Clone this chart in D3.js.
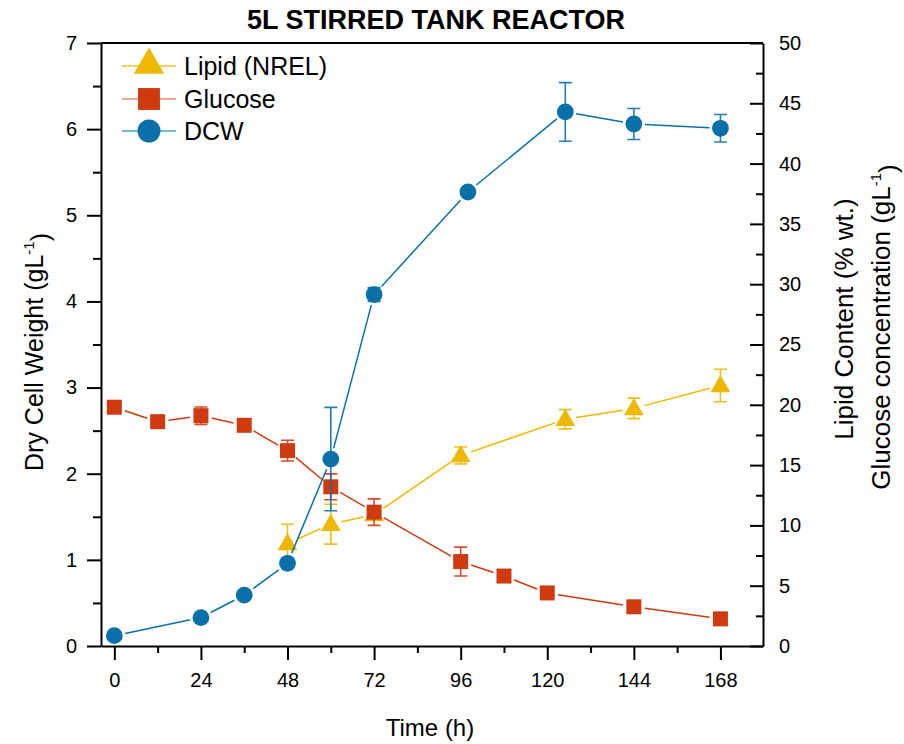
<!DOCTYPE html>
<html>
<head>
<meta charset="utf-8">
<script src="https://cdn.jsdelivr.net/npm/d3@7"></script>
<style>
  body { margin: 0; background: #fff; }
  text { font-family: "Liberation Sans", Arial, sans-serif; fill: #000; }
</style>
</head>
<body>
<svg id="chart" width="904" height="744"></svg>
<script>
// --- data ---
const dcwTime = [0, 24, 36, 48, 60, 72, 98, 125, 144, 168];
const dcw = [0.12, 0.33, 0.59, 0.96, 2.17, 4.08, 5.27, 6.20, 6.06, 6.01];
const dcwErr = [0, 0, 0, 0, 0.60, 0.08, 0, 0.34, 0.18, 0.16];

const glucoseTime = [0, 12, 24, 36, 48, 60, 72, 96, 108, 120, 144, 168];
const glucose = [19.8, 18.6, 19.1, 18.3, 16.2, 13.2, 11.1, 7.0, 5.8, 4.4, 3.25, 2.25];
const glucoseErr = [0, 0, 0.72, 0, 0.86, 1.07, 1.1, 1.2, 0, 0, 0, 0];

const lipidTime = [48, 60, 72, 96, 125, 144, 168];
const lipid = [8.5, 10.1, 10.9, 15.8, 18.8, 19.7, 21.6];
const lipidErr = [1.6, 1.65, 0, 0.7, 0.8, 0.85, 1.35];

const xTicks = [0, 24, 48, 72, 96, 120, 144, 168];
const leftTicks = [0, 1, 2, 3, 4, 5, 6, 7];
const rightTicks = [0, 5, 10, 15, 20, 25, 30, 35, 40, 45, 50];

const colors = { lipid: "#efb800", glucose: "#cf3a10", dcw: "#0a70aa" };

const svg = d3.select("#chart");
const m = { left: 101, right: 763, top: 43, bottom: 646 };

const x = d3.scaleLinear().domain([-3.7, 179.8]).range([m.left, m.right]);
const yL = d3.scaleLinear().domain([0, 7]).range([m.bottom, m.top]);
const yR = d3.scaleLinear().domain([0, 50]).range([m.bottom, m.top]);

// title
svg.append("text")
    .attr("x", 436).attr("y", 29)
    .attr("text-anchor", "middle")
    .style("font-size", "27px").style("font-weight", "bold")
    .text("5L STIRRED TANK REACTOR");

// frame top line
svg.append("line")
    .attr("x1", m.left).attr("x2", m.right).attr("y1", m.top).attr("y2", m.top)
    .attr("stroke", "#000").attr("stroke-width", 2);

function styleAxis(g) {
    g.select(".domain").attr("stroke-width", 2);
    g.selectAll(".tick line").attr("stroke-width", 2);
    g.selectAll(".tick text").style("font-size", "20px").style("font-family", "Liberation Sans, Arial, sans-serif");
}

// bottom axis (major + minor)
svg.append("g")
    .attr("transform", `translate(0,${m.bottom})`)
    .call(d3.axisBottom(x).tickValues(d3.range(12, 180, 24)).tickSize(7).tickFormat("").tickSizeOuter(0))
    .call(g => g.select(".domain").remove())
    .selectAll("line").attr("stroke-width", 2);
svg.append("g")
    .attr("transform", `translate(0,${m.bottom})`)
    .call(d3.axisBottom(x).tickValues(xTicks).tickSize(14).tickSizeOuter(0).tickPadding(13))
    .call(styleAxis);

// left axis
svg.append("g")
    .attr("transform", `translate(${m.left},0)`)
    .call(d3.axisLeft(yL).tickValues(d3.range(0.5, 7, 1)).tickSize(8).tickFormat("").tickSizeOuter(0))
    .call(g => g.select(".domain").remove())
    .selectAll("line").attr("stroke-width", 2);
svg.append("g")
    .attr("transform", `translate(${m.left},0)`)
    .call(d3.axisLeft(yL).tickValues(leftTicks).tickFormat(d3.format("d")).tickSize(14).tickSizeOuter(0).tickPadding(10))
    .call(styleAxis);

// right axis, ticks pointing inward
svg.append("g")
    .attr("transform", `translate(${m.right},0)`)
    .call(d3.axisRight(yR).tickValues(d3.range(2.5, 50, 5)).tickSize(-7).tickFormat("").tickSizeOuter(0))
    .call(g => g.select(".domain").remove())
    .selectAll("line").attr("stroke-width", 2);
svg.append("g")
    .attr("transform", `translate(${m.right},0)`)
    .call(d3.axisRight(yR).tickValues(rightTicks).tickSize(-13).tickSizeOuter(0).tickPadding(16))
    .call(styleAxis);

// axis titles
svg.append("text")
    .attr("x", 430).attr("y", 736)
    .attr("text-anchor", "middle")
    .style("font-size", "24px")
    .text("Time (h)");

function titleWithSup(sel, main, sup) {
    sel.append("tspan").text(main);
    sel.append("tspan").attr("dy", "-0.6em").style("font-size", "15px").text(sup);
    sel.append("tspan").attr("dy", "0.6em").text(")");
}

svg.append("text")
    .attr("transform", "translate(43,352) rotate(-90)")
    .attr("text-anchor", "middle")
    .style("font-size", "25px")
    .call(titleWithSup, "Dry Cell Weight (gL", "-1");

svg.append("text")
    .attr("transform", "translate(853,319) rotate(-90)")
    .attr("text-anchor", "middle")
    .style("font-size", "26px")
    .text("Lipid Content (% wt.)");

svg.append("text")
    .attr("transform", "translate(890,327) rotate(-90)")
    .attr("text-anchor", "middle")
    .style("font-size", "26px")
    .call(titleWithSup, "Glucose concentration (gL", "-1");

// series
const series = [
    { key: "lipid", t: lipidTime, v: lipid, e: lipidErr, y: yR, sym: d3.symbolTriangle, size: 170, legSize: 400 },
    { key: "glucose", t: glucoseTime, v: glucose, e: glucoseErr, y: yR, sym: d3.symbolSquare, size: 225, legSize: 480 },
    { key: "dcw", t: dcwTime, v: dcw, e: dcwErr, y: yL, sym: d3.symbolCircle, size: 222, legSize: 415 }
];

const gap = 11;
series.forEach(s => {
    const col = colors[s.key];
    const pts = s.t.map((t, i) => ({ px: x(t), py: s.y(s.v[i]), err: s.e[i], v: s.v[i] }));
    const g = svg.append("g");

    // connecting segments, trimmed so they stop short of the markers
    const segs = d3.pairs(pts).map(([a, b]) => {
        const dx = b.px - a.px, dy = b.py - a.py;
        const len = Math.sqrt(dx * dx + dy * dy);
        const ux = dx / len, uy = dy / len;
        return { x1: a.px + ux * gap, y1: a.py + uy * gap, x2: b.px - ux * gap, y2: b.py - uy * gap, len: len };
    }).filter(d => d.len > 2 * gap);

    g.selectAll(".seg").data(segs).enter().append("line")
        .attr("x1", d => d.x1).attr("y1", d => d.y1)
        .attr("x2", d => d.x2).attr("y2", d => d.y2)
        .attr("stroke", col).attr("stroke-width", 1.5);

    // error bars
    const eb = pts.filter(d => d.err > 0);
    g.selectAll(".err").data(eb).enter().append("path")
        .attr("d", d => {
            const y1 = s.y(d.v + d.err), y2 = s.y(d.v - d.err);
            return `M${d.px},${y1}V${y2}M${d.px - 6.5},${y1}H${d.px + 6.5}M${d.px - 6.5},${y2}H${d.px + 6.5}`;
        })
        .attr("fill", "none").attr("stroke", col).attr("stroke-width", 1.6).attr("opacity", 0.9);

    g.selectAll(".mark").data(pts).enter().append("path")
        .attr("d", d3.symbol().type(s.sym).size(s.size))
        .attr("transform", d => `translate(${d.px},${d.py + (s.key === "lipid" ? 1 : 0)})`)
        .attr("fill", col);
});

// legend
const legend = [
    { label: "Lipid (NREL)", key: "lipid", y: 66, line: "#f3c42a" },
    { label: "Glucose", key: "glucose", y: 99, line: "#e58a70" },
    { label: "DCW", key: "dcw", y: 131, line: "#4b9fd0" }
];
const lg = svg.append("g");
legend.forEach((d, i) => {
    const s = series[i];
    lg.append("line")
        .attr("x1", 122).attr("x2", 176).attr("y1", d.y).attr("y2", d.y)
        .attr("stroke", d.line).attr("stroke-width", 1.5);
    lg.append("path")
        .attr("d", d3.symbol().type(s.sym).size(s.legSize))
        .attr("transform", `translate(149,${d.y + (d.key === "lipid" ? -1 : 0)})`)
        .attr("fill", colors[d.key]);
    lg.append("text")
        .attr("x", 184).attr("y", d.y + 9)
        .style("font-size", "25px")
        .text(d.label);
});
</script>
</body>
</html>
